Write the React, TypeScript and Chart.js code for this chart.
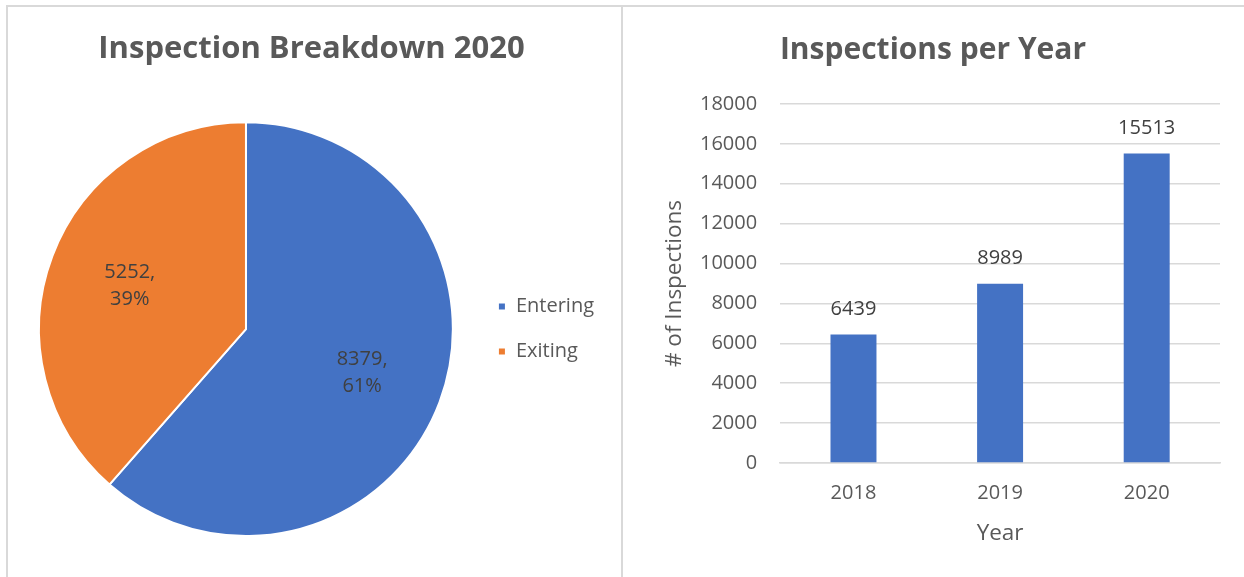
import React, { useEffect, useRef } from "react";
import { Chart, registerables } from "chart.js";

Chart.register(...registerables);

// ---- data ----
const pieTitle = "Inspection Breakdown 2020";
const pieLabels = ["Entering", "Exiting"];
const pieValues = [8379, 5252];
const pieColors = ["#4472C4", "#ED7D31"];

const barTitle = "Inspections per Year";
const years = ["2018", "2019", "2020"];
const inspections = [6439, 8989, 15513];
const yTickValues = [0, 2000, 4000, 6000, 8000, 10000, 12000, 14000, 16000, 18000];
const xAxisTitle = "Year";
const yAxisTitle = "# of Inspections";

const FONT = "'Open Sans', sans-serif";
const TEXT = "#595959";
const LABEL = "#404040";
const GRID = "#D9D9D9";

const pieLabelPlugin = {
  id: "pieValueLabels",
  afterDatasetsDraw(chart: any) {
    const ctx = chart.ctx;
    const meta = chart.getDatasetMeta(0);
    const data = chart.data.datasets[0].data as number[];
    const total = data.reduce((a, b) => a + b, 0);
    ctx.save();
    ctx.font = `20px ${FONT}`;
    ctx.fillStyle = LABEL;
    ctx.textAlign = "center";
    ctx.textBaseline = "middle";
    meta.data.forEach((arc: any, i: number) => {
      const p = arc.getProps(["x", "y", "startAngle", "endAngle", "outerRadius"], true);
      const mid = (p.startAngle + p.endAngle) / 2;
      const r = p.outerRadius * 0.6;
      const cx = p.x + Math.cos(mid) * r;
      const cy = p.y + Math.sin(mid) * r;
      const pct = Math.round((data[i] / total) * 100) + "%";
      ctx.fillText(data[i] + ",", cx, cy - 13.5);
      ctx.fillText(pct, cx, cy + 13.5);
    });
    ctx.restore();
  },
};

const barLabelPlugin = {
  id: "barValueLabels",
  afterDatasetsDraw(chart: any) {
    const ctx = chart.ctx;
    const meta = chart.getDatasetMeta(0);
    const data = chart.data.datasets[0].data as number[];
    ctx.save();
    ctx.font = `20px ${FONT}`;
    ctx.fillStyle = LABEL;
    ctx.textAlign = "center";
    ctx.textBaseline = "middle";
    meta.data.forEach((bar: any, i: number) => {
      const p = bar.getProps(["x", "y"], true);
      ctx.fillText(String(data[i]), p.x, p.y - 25);
    });
    ctx.restore();
  },
};

function PieChart() {
  const ref = useRef<HTMLCanvasElement | null>(null);
  useEffect(() => {
    if (!ref.current) return;
    const chart = new Chart(ref.current, {
      type: "pie",
      data: {
        labels: pieLabels,
        datasets: [
          {
            data: pieValues,
            backgroundColor: pieColors,
            borderColor: "#ffffff",
            borderWidth: 2,
          },
        ],
      },
      options: {
        responsive: false,
        animation: false,
        layout: { padding: { left: 12, right: 18, top: 0, bottom: 40 } },
        plugins: {
          title: {
            display: true,
            text: pieTitle,
            color: TEXT,
            font: { family: FONT, size: 31, weight: "bold", lineHeight: 1.2 },
            padding: { top: 25, bottom: 53 },
          },
          legend: {
            position: "right",
            fullSize: false,
            labels: {
              boxWidth: 8,
              boxHeight: 8,
              color: TEXT,
              font: { family: FONT, size: 20 },
              padding: 25,
            },
          },
          tooltip: { enabled: false },
        },
      } as any,
      plugins: [pieLabelPlugin],
    });
    return () => chart.destroy();
  }, []);
  return (
    <canvas
      ref={ref}
      width={615}
      height={571}
      style={{ position: "absolute", left: 7, top: 6, width: 615, height: 571 }}
    />
  );
}

function BarChart() {
  const ref = useRef<HTMLCanvasElement | null>(null);
  useEffect(() => {
    if (!ref.current) return;
    const chart = new Chart(ref.current, {
      type: "bar",
      data: {
        labels: years,
        datasets: [
          {
            data: inspections,
            backgroundColor: "#4472C4",
            barPercentage: 0.3136,
            categoryPercentage: 1,
          },
        ],
      },
      options: {
        responsive: false,
        animation: false,
        layout: { padding: { left: 22, right: 24, top: 0, bottom: 29.5 } },
        plugins: {
          legend: { display: false },
          tooltip: { enabled: false },
          title: {
            display: true,
            text: barTitle,
            color: TEXT,
            font: { family: FONT, size: 30, weight: "bold", lineHeight: 1.2 },
            padding: { top: 26, bottom: 36 },
          },
        },
        scales: {
          x: {
            grid: { display: false, drawTicks: false },
            border: { display: true, color: GRID, width: 1.5 },
            ticks: { color: TEXT, font: { family: FONT, size: 20 }, padding: 18 },
            title: {
              display: true,
              text: xAxisTitle,
              color: TEXT,
              font: { family: FONT, size: 22.5 },
              padding: { top: -2.5, bottom: 0 },
            },
          },
          y: {
            min: 0,
            max: 18000,
            afterBuildTicks: (axis: any) => {
              axis.ticks = yTickValues.map((v) => ({ value: v }));
            },
            grid: { color: GRID, lineWidth: 1.5, drawTicks: false },
            border: { display: false },
            ticks: {
              color: TEXT,
              font: { family: FONT, size: 20 },
              padding: 23,
              callback: (v: any) => String(v),
            },
            title: {
              display: true,
              text: yAxisTitle,
              color: TEXT,
              font: { family: FONT, size: 22.5 },
              padding: { top: 15.5, bottom: -11.5 },
            },
          },
        },
      } as any,
      plugins: [barLabelPlugin],
    });
    return () => chart.destroy();
  }, []);
  return (
    <canvas
      ref={ref}
      width={620}
      height={571}
      style={{ position: "absolute", left: 624, top: 6, width: 620, height: 571 }}
    />
  );
}

export default function App() {
  return (
    <div
      style={{
        position: "absolute",
        left: 0,
        top: 0,
        width: 1244,
        height: 577,
        background: "#ffffff",
        overflow: "hidden",
      }}
    >
      <div style={{ position: "absolute", left: 6, top: 5, width: 1238, height: 2, background: GRID }} />
      <div style={{ position: "absolute", left: 6, top: 5, width: 2, height: 572, background: GRID }} />
      <div style={{ position: "absolute", left: 621, top: 5, width: 2, height: 572, background: GRID }} />
      <PieChart />
      <BarChart />
    </div>
  );
}
